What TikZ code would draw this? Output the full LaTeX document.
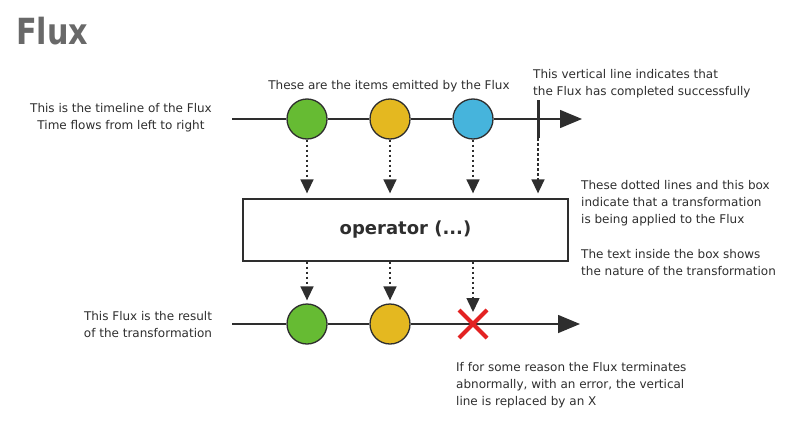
\documentclass[tikz,border=0pt]{standalone}
\usepackage{fontspec}
\setmainfont{DejaVu Sans}
\usetikzlibrary{arrows.meta,positioning,calc,shapes.misc}
\definecolor{itemgreen}{HTML}{66BB33}
\definecolor{itemyellow}{HTML}{E4B820}
\definecolor{itemblue}{HTML}{46B4DC}
\definecolor{errred}{HTML}{E32222}
\definecolor{inkgray}{HTML}{2E2E2E}
\definecolor{titlegray}{HTML}{696969}

\begin{document}
\begin{tikzpicture}[x=1pt, y=-1pt,
  item/.style={circle, draw=inkgray, line width=1.3pt, minimum size=40pt, inner sep=0pt},
  timeline/.style={line width=1.5pt, draw=inkgray, -{Triangle[length=22pt,width=18pt]}},
  flow/.style={line width=1.5pt, draw=inkgray, dash pattern=on 2.5pt off 2.5pt,
               -{Triangle[length=14pt,width=13pt]}},
  opbox/.style={draw=inkgray, line width=1.3pt, minimum width=325pt, minimum height=62pt,
                font=\fontsize{18}{20}\selectfont\bfseries, text=inkgray},
  note/.style={font=\fontsize{12}{17}\selectfont, text=inkgray, inner sep=0pt},
  title/.style={font=\fontsize{36}{40}\selectfont\bfseries, text=titlegray, inner sep=0pt}
]
\useasboundingbox (0,0) rectangle (799,428);

% Title
\node[title, anchor=west] (title) at (16,31) {\scalebox{0.84}[1]{Flux}};

% Source timeline
\node[item, fill=itemgreen]  (g1) at (307,119) {};
\node[item, fill=itemyellow] (y1) at (390,119) {};
\node[item, fill=itemblue]   (b1) at (473,119) {};
\coordinate (tstart) at (232,119);
\coordinate (tend)   at (582,119);
\draw[timeline] (tstart) -- (g1) -- (y1) -- (b1) -- (tend);
\node[fill=inkgray, minimum width=3pt, minimum height=38pt, inner sep=0pt] (done) at (538,119) {};

% Operator box
\node[opbox] (op) at (405.5,230) {operator (...)};

% Result timeline
\node[item, fill=itemgreen]  (g2) at (307,324) {};
\node[item, fill=itemyellow] (y2) at (390,324) {};
\coordinate (rstart) at (232,324);
\coordinate (rend)   at (580,324);
\draw[timeline] (rstart) -- (g2) -- (y2) -- (rend);
\node[cross out, draw=errred, line width=4pt, minimum size=24pt, inner sep=0pt] (err) at (473,324) {};

% Dotted lines into and out of the box
\foreach \n in {g1, y1, b1, done}
  \draw[flow, shorten >=5pt] (\n) -- (\n |- op.north);
\draw[flow, shorten >=3pt] (g1 |- op.south) -- (g2);
\draw[flow, shorten >=3pt] (y1 |- op.south) -- (y2);
\draw[flow, shorten >=-2pt] (b1 |- op.south) -- (err);

% Notes
\node[note, align=center] (tlnote) at (121,118) {This is the timeline of the Flux\\Time flows from left to right};
\node[note] (itemsnote) at (389,86) {These are the items emitted by the Flux};
\node[note, anchor=west, align=left] (donenote) at (533,83.5) {This vertical line indicates that\\the Flux has completed successfully};
\node[note, anchor=west, align=left] (opnote) at (581,203) {These dotted lines and this box\\indicate that a transformation\\is being applied to the Flux};
\node[note, anchor=west, align=left] (natnote) at (581,262.5) {The text inside the box shows\\the nature of the transformation};
\node[note, align=center] (resnote) at (148,324.5) {This Flux is the result\\of the transformation};
\node[note, anchor=west, align=left] (errnote) at (456,385) {If for some reason the Flux terminates\\abnormally, with an error, the vertical\\line is replaced by an X};

\end{tikzpicture}
\end{document}
